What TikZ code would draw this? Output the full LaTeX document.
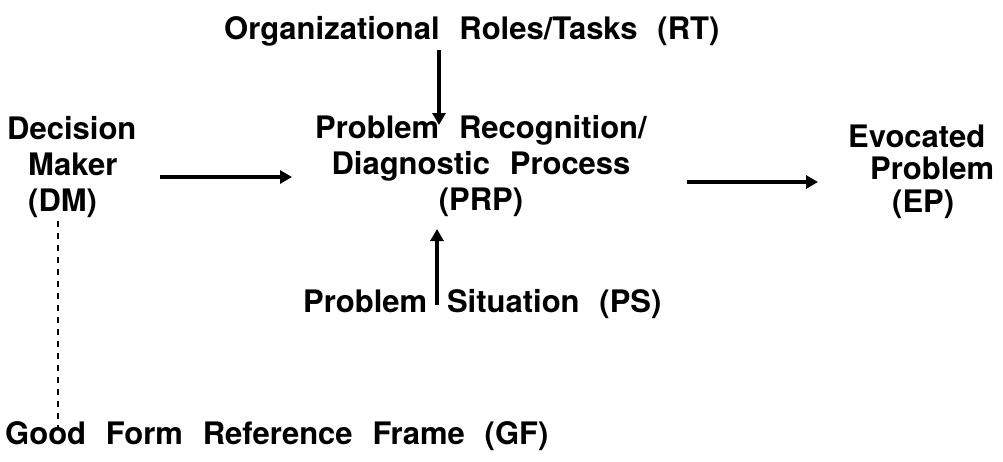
\documentclass[tikz,border=0pt]{standalone}
\usepackage{fontspec}
\setmainfont{TeX Gyre Heros}[WordSpace=2.3]
\usetikzlibrary{arrows.meta,calc}
\begin{document}
\begin{tikzpicture}[x=1pt,y=-1pt,
  lbl/.style={font=\fontsize{31}{36}\selectfont\bfseries, inner sep=4pt},
  arr/.style={line width=4.5pt, -{Triangle[length=12pt,width=13pt]}},
  guide/.style={line width=1.8pt, dash pattern=on 6pt off 6pt}]
\useasboundingbox (0,0) rectangle (1003,461);

% labels (multi-line nodes are anchored at the baseline of their last line)
\node[lbl, anchor=base west] (RT) at (220,39) {Organizational Roles/Tasks (RT)};
\node[lbl, anchor=base west, align=left] (DM) at (3,211)
  {Decision\\\hspace{21pt}Maker\\\hspace{21pt}(DM)};
\node[lbl, anchor=base, align=center] (PRP) at (481,210)
  {Problem Recognition/\\Diagnostic Process\\(PRP)};
\node[lbl, font=\fontsize{31}{32.5}\selectfont\bfseries, anchor=base west, align=left]
  (EP) at (844,212) {Evocated\\\hspace{22pt}Problem\\\hspace{44pt}(EP)};
\node[lbl, anchor=base west] (PS) at (299,312) {Problem Situation (PS)};
\node[lbl, anchor=base west] (GF) at (1,444) {Good Form Reference Frame (GF)};

% arrow end points
\coordinate (rtTip) at (439,125);
\coordinate (psTip) at (437,229);
\coordinate (dmLine) at (0,177);
\coordinate (epLine) at (0,182);
\coordinate (gfTop) at (58,430);

% connectors
\draw[arr] (RT.south -| rtTip) -- (rtTip);
\draw[arr] ($(PS.north -| psTip)+(0,20)$) -- (psTip);
\draw[arr] ($(DM.east |- dmLine)+(19,0)$) -- ($(PRP.west |- dmLine)+(-19,0)$);
\draw[arr] ($(PRP.east |- epLine)+(36,0)$) -- ($(EP.west |- epLine)+(-26,0)$);
\draw[guide] (DM.south -| gfTop) -- (gfTop);
\end{tikzpicture}
\end{document}
